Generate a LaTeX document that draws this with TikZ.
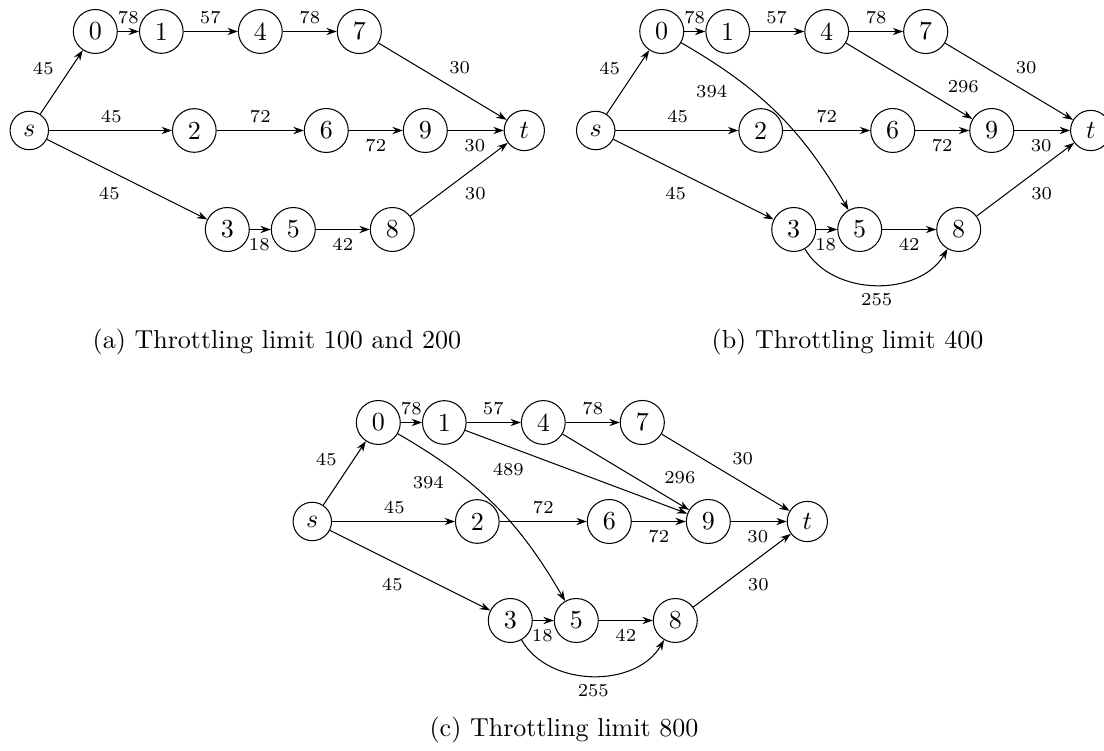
\documentclass[tikz,border=0pt]{standalone}
\usetikzlibrary{arrows.meta}
\tikzset{
  vtx/.style={circle,draw,inner sep=3pt,font=\normalsize},
  wlab/.style={font=\scriptsize,inner sep=0pt},
  arc/.style={-{Stealth[length=4pt,width=2.8pt]}},
  capt/.style={font=\normalsize,anchor=base},
}
\newcommand\basegraph[1]{%
  \node[vtx] (#1s)  at (0,0)     {$s$};
  \node[vtx] (#1n0) at (66,99)   {0};
  \node[vtx] (#1n1) at (132,99)  {1};
  \node[vtx] (#1n4) at (231,99)  {4};
  \node[vtx] (#1n7) at (330,99)  {7};
  \node[vtx] (#1n2) at (165,0)   {2};
  \node[vtx] (#1n6) at (297,0)   {6};
  \node[vtx] (#1n9) at (396,0)   {9};
  \node[vtx] (#1t)  at (495,0)   {$t$};
  \node[vtx] (#1n3) at (198,-99) {3};
  \node[vtx] (#1n5) at (264,-99) {5};
  \node[vtx] (#1n8) at (363,-99) {8};
  \draw[arc] (#1s) -- (#1n0);
  \draw[arc] (#1s) -- (#1n2);
  \draw[arc] (#1s) -- (#1n3);
  \draw[arc] (#1n0) -- (#1n1);
  \draw[arc] (#1n1) -- (#1n4);
  \draw[arc] (#1n4) -- (#1n7);
  \draw[arc] (#1n7) -- (#1t);
  \draw[arc] (#1n2) -- (#1n6);
  \draw[arc] (#1n6) -- (#1n9);
  \draw[arc] (#1n9) -- (#1t);
  \draw[arc] (#1n3) -- (#1n5);
  \draw[arc] (#1n5) -- (#1n8);
  \draw[arc] (#1n8) -- (#1t);
  \node[wlab] (#1ls0) at (14,61.7)    {45};
  \node[wlab] (#1ls2) at (82,14)      {45};
  \node[wlab] (#1ls3) at (80,-63.3)   {45};
  \node[wlab] (#1l01) at (99,113.3)   {78};
  \node[wlab] (#1l14) at (181,113.3)  {57};
  \node[wlab] (#1l47) at (280.5,113.3){78};
  \node[wlab] (#1l7t) at (430.4,63.3) {30};
  \node[wlab] (#1l26) at (231,14)     {72};
  \node[wlab] (#1l69) at (346.5,-15)  {72};
  \node[wlab] (#1l9t) at (445.5,-15)  {30};
  \node[wlab] (#1l35) at (230,-114.3) {18};
  \node[wlab] (#1l58) at (313.5,-114.3){42};
  \node[wlab] (#1l8t) at (446,-63.3)  {30};
}
\newcommand\extragraph[1]{%
  \draw[arc] (#1n0) to[bend left=15] (#1n5);
  \draw[arc] (#1n4) -- (#1n9);
  \draw[arc] (#1n3) to[out=-60,in=-120] (#1n8);
  \node[wlab] (#1l05) at (116,39.3)   {394};
  \node[wlab] (#1l49) at (367.6,44)   {296};
  \node[wlab] (#1l38) at (281,-169.3) {255};
}
\begin{document}
\begin{tikzpicture}[x=0.3846pt,y=0.3846pt]
\useasboundingbox (0,0) rectangle (1104,-751);
\begin{scope}[shift={(29.3,-130.5)}]
  \basegraph{a}
\end{scope}
\begin{scope}[shift={(595.7,-130.5)}]
  \basegraph{b}
  \extragraph{b}
\end{scope}
\begin{scope}[shift={(312.3,-521.5)}]
  \basegraph{c}
  \extragraph{c}
  \draw[arc] (cn1) -- (cn9);
  \node[wlab] (cl19) at (196,51.7) {489};
\end{scope}
\node[capt] (capa) at (276.9,-349) {(a) Throttling limit 100 and 200};
\node[capt] (capb) at (847.5,-349) {(b) Throttling limit 400};
\node[capt] (capc) at (564,-737) {(c) Throttling limit 800};
\end{tikzpicture}
\end{document}
